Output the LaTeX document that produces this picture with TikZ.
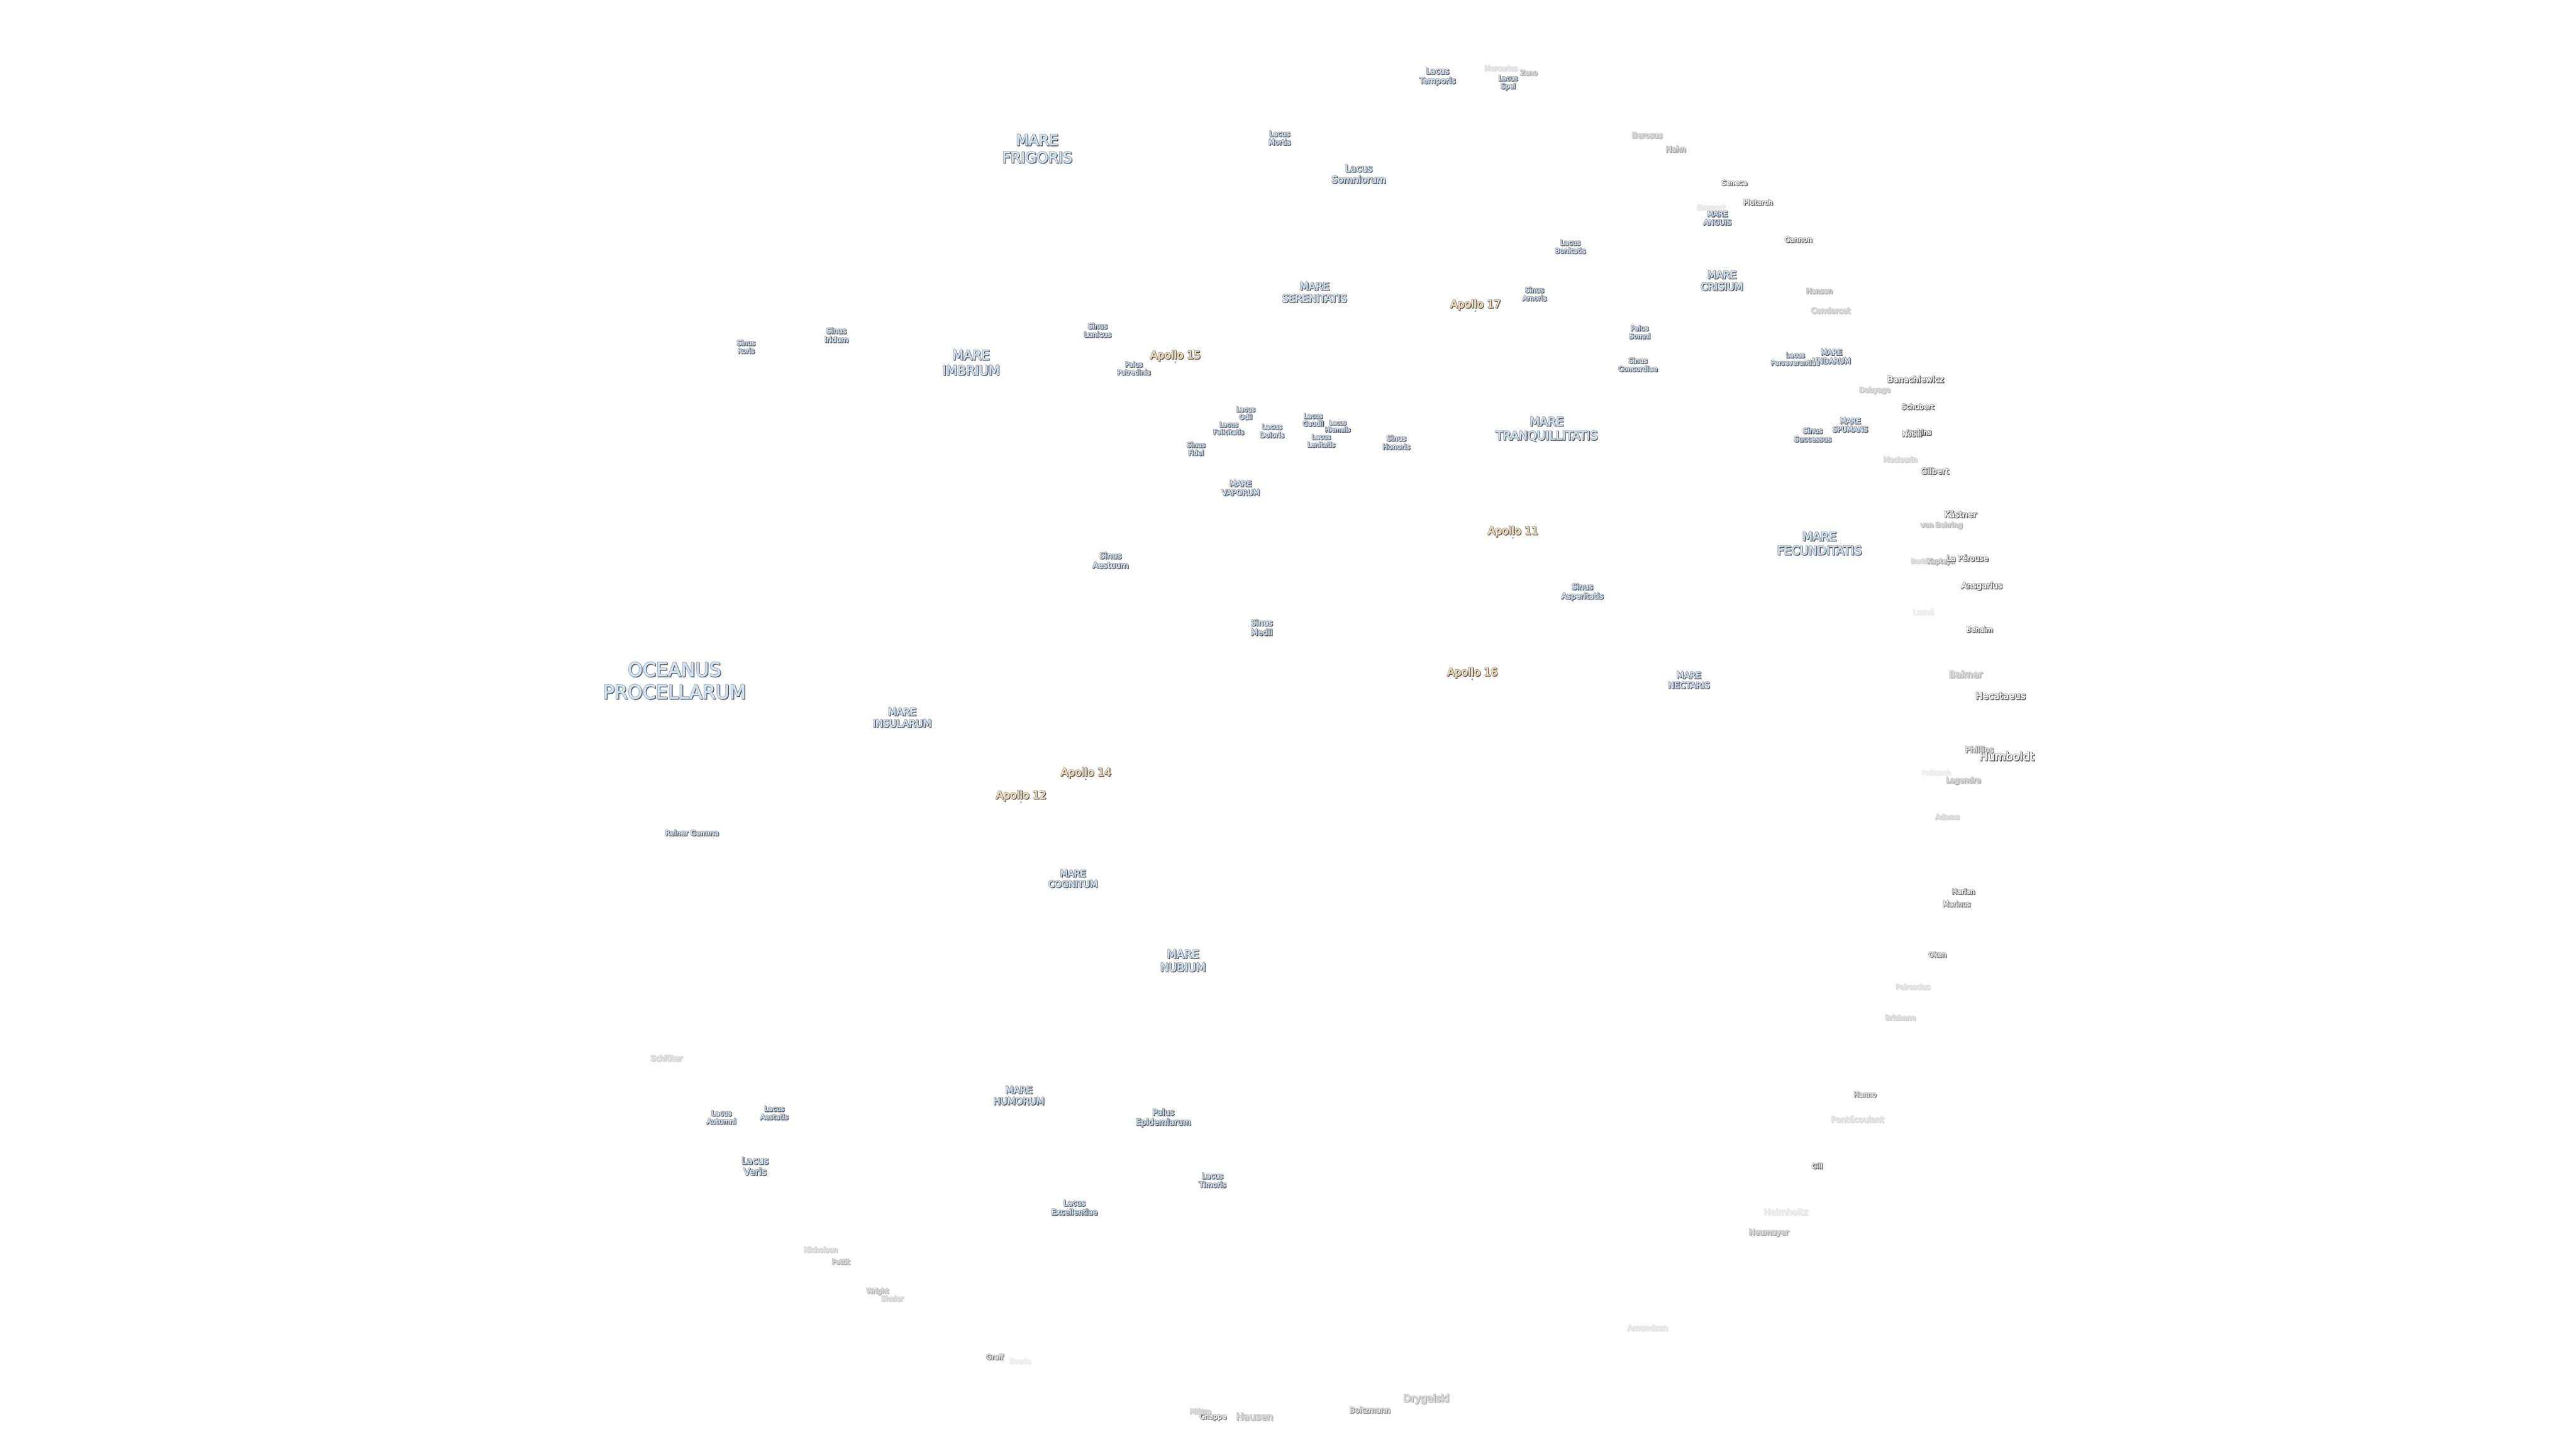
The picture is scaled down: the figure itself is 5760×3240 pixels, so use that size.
\documentclass[tikz,border=0pt]{standalone}
\usepackage{fontspec}
\setmainfont{DejaVu Sans}
\newbox\labbox
% one text, painted in three passes: shadow, outline, fill
% #1 name, #2 x, #3 y, #4 size, #5 opacity, #6/#7/#8 fill rgb, #9 text
\newcommand{\mixv}[3]{\pgfmathsetmacro{#1}{1-#3*(1-#2)}}
\newcommand{\lab}[9]{%
  \mixv{\shg}{0.28}{#5}\mixv{\stg}{0.60}{#5}%
  \mixv{\fr}{#6}{#5}\mixv{\fg}{#7}{#5}\mixv{\fb}{#8}{#5}%
  \pgfmathsetmacro{\lsz}{#4*1.18}%
  \node[lbl] (#1) at (#2,{#3+3}) {\fontsize{#4}{\lsz}\selectfont
    \setbox\labbox=\hbox{\begin{tabular}{@{}c@{}}#9\end{tabular}}%
    \special{pdf:literal direct 2 Tr 1.8 w \shg\space\shg\space\shg\space rg \shg\space\shg\space\shg\space RG}%
    \rlap{\kern1.5pt\lower1.5pt\copy\labbox}%
    \special{pdf:literal direct 2 Tr 2.4 w \stg\space\stg\space\stg\space rg \stg\space\stg\space\stg\space RG}%
    \rlap{\copy\labbox}%
    \special{pdf:literal direct 2 Tr 0.35 w \fr\space\fg\space\fb\space rg \fr\space\fg\space\fb\space RG}%
    \copy\labbox
    \special{pdf:literal direct 0 Tr 0 0 0 rg 0 0 0 RG}};}
\newcommand{\sea}[5]{\lab{#1}{#2}{#3}{#4}{1}{0.80}{0.90}{1}{#5}}
\newcommand{\apo}[5]{\lab{#1}{#2}{#3}{#4}{1}{1}{0.88}{0.70}{#5}}
\newcommand{\craterl}[6]{%
  \pgfmathsetmacro{\cop}{min(1,#5*1.6)}%
  \pgfmathsetmacro{\cv}{1-0.6*(1-\cop)}%
  \lab{#1}{#2}{#3}{#4}{\cop}{\cv}{\cv}{\cv}{#6}}
\newcommand{\crater}[5]{\craterl{#1}{#2}{#3}{#4}{#5}{#1}}
\begin{document}
\begin{tikzpicture}[x=1pt,y=-1pt,lbl/.style={inner sep=0pt,outer sep=0pt,anchor=center},
  site/.style={circle,fill=black!60,minimum size=3.5pt,inner sep=0pt}]
\useasboundingbox (0,0) rectangle (5760,3240);
\fill[white] (0,0) rectangle (5760,3240);
% seas
\sea{oceanus}{1508}{1525}{42.5}{OCEANUS\\PROCELLARUM}
\sea{frigoris}{2319}{334}{33}{MARE\\FRIGORIS}
\sea{imbrium}{2171}{812}{29}{MARE\\IMBRIUM}
\sea{serenitatis}{2939}{654}{23}{MARE\\SERENITATIS}
\sea{crisium}{3850}{628}{22.5}{MARE\\CRISIUM}
\sea{tranq}{3458}{959}{26.5}{MARE\\TRANQUILLITATIS}
\sea{fecund}{4068}{1216}{26.5}{MARE\\FECUNDITATIS}
\sea{nectaris}{3776}{1521}{19}{MARE\\NECTARIS}
\sea{insularum}{2017}{1605}{22}{MARE\\INSULARUM}
\sea{cognitum}{2399}{1965}{20}{MARE\\COGNITUM}
\sea{nubium}{2645}{2149}{25}{MARE\\NUBIUM}
\sea{humorum}{2278}{2450}{21}{MARE\\HUMORUM}
\sea{vaporum}{2774}{1091}{17}{MARE\\VAPORUM}
\sea{anguis}{3840}{487}{16}{MARE\\ANGUIS}
\sea{undarum}{4095}{797}{16.5}{MARE\\UNDARUM}
\sea{spumans}{4137}{950}{16}{MARE\\SPUMANS}
% lakes, bays, marshes
\sea{somniorum}{3038}{389}{21}{Lacus\\Somniorum}
\sea{mortis}{2861}{308}{16}{Lacus\\Mortis}
\sea{temporis}{3214}{169}{18}{Lacus\\Temporis}
\sea{spei}{3372}{183}{15}{Lacus\\Spei}
\sea{bonitatis}{3511}{551}{15.5}{Lacus\\Bonitatis}
\sea{amoris}{3431}{657}{15.5}{Sinus\\Amoris}
\sea{somni}{3666}{742}{15}{Palus\\Somni}
\sea{concordiae}{3662}{815}{15.5}{Sinus\\Concordiae}
\sea{persev}{4014}{802}{14.5}{Lacus\\Perseverantiae}
\sea{successus}{4053}{972}{16}{Sinus\\Successus}
\sea{iridum}{1870}{749}{16.5}{Sinus\\Iridum}
\sea{roris}{1668}{775}{15}{Sinus\\Roris}
\sea{lunicus}{2454}{738}{16}{Sinus\\Lunicus}
\sea{putredinis}{2535}{823}{15}{Palus\\Putredinis}
\sea{odii}{2785}{923}{14.5}{Lacus\\Odii}
\sea{felicitatis}{2747}{957}{14.5}{Lacus\\Felicitatis}
\sea{doloris}{2844}{963}{15.5}{Lacus\\Doloris}
\sea{gaudii}{2936}{938}{14.5}{Lacus\\Gaudii}
\sea{hiemalis}{2991}{952}{13}{Lacus\\Hiemalis}
\sea{lenitatis}{2954}{985}{14.5}{Lacus\\Lenitatis}
\sea{fidei}{2674}{1003}{15}{Sinus\\Fidei}
\sea{honoris}{3122}{989}{16}{Sinus\\Honoris}
\sea{asperitatis}{3538}{1322}{17.5}{Sinus\\Asperitatis}
\sea{aestuum}{2483}{1253}{18}{Sinus\\Aestuum}
\sea{medii}{2821}{1403}{18}{Sinus\\Medii}
\sea{epidemiarum}{2601}{2498}{18.5}{Palus\\Epidemiarum}
\sea{aestatis}{1731}{2488}{15.5}{Lacus\\Aestatis}
\sea{autumni}{1613}{2498}{15.5}{Lacus\\Autumni}
\sea{veris}{1688}{2608}{21}{Lacus\\Veris}
\sea{timoris}{2711}{2639}{16.5}{Lacus\\Timoris}
\sea{excellentiae}{2402}{2700}{17}{Lacus\\Excellentiae}
\sea{reiner}{1547}{1862}{16}{Reiner Gamma}
% Apollo sites
\apo{ap11}{3383}{1187}{24}{Apollo 11}
\apo{ap12}{2283}{1778}{24}{Apollo 12}
\apo{ap14}{2428}{1727}{24}{Apollo 14}
\apo{ap15}{2628}{794}{24}{Apollo 15}
\apo{ap16}{3292}{1503}{24}{Apollo 16}
\apo{ap17}{3299}{680}{24}{Apollo 17}
\node[site] (dot11) at (3383,1203) {};
\node[site] (dot12) at (2283,1794) {};
\node[site] (dot14) at (2428,1743) {};
\node[site] (dot15) at (2628,810) {};
\node[site] (dot16) at (3292,1519) {};
\node[site] (dot17) at (3299,696) {};
% craters
\crater{Mercurius}{3356}{152}{15}{.15}
\crater{Zeno}{3418}{162}{15}{.35}
\crater{Berosus}{3683}{302}{17}{.3}
\crater{Hahn}{3747}{333}{17}{.4}
\crater{Seneca}{3878}{408}{15.5}{.7}
\crater{Plutarch}{3931}{452}{16}{.6}
\crater{Emmart}{3826}{463}{16}{.1}
\crater{Cannon}{4021}{535}{16}{.8}
\crater{Hansen}{4068}{650}{15.5}{.35}
\crater{Condorcet}{4093}{694}{17}{.25}
\crater{Banachiewicz}{4283}{848}{18.5}{.8}
\crater{Dubyago}{4192}{871}{15.5}{.25}
\crater{Schubert}{4288}{909}{16}{.8}
\crater{Jenkins}{4291}{966}{15.5}{.75}
\crater{Nobili}{4275}{970}{15.5}{.75}
\crater{Maclaurin}{4249}{1027}{15.5}{.2}
\crater{Gilbert}{4326}{1053}{18.5}{.55}
\crater{Kästner}{4383}{1150}{19}{.75}
\craterl{behring}{4341}{1173}{15.5}{.3}{von Behring}
\crater{Barkla}{4295}{1254}{14}{.2}
\crater{Kapteyn}{4340}{1254}{15}{.4}
\craterl{perouse}{4399}{1248}{17}{.75}{La Pérouse}
\crater{Ansgarius}{4431}{1309}{18.5}{.8}
\crater{Lamé}{4300}{1368}{17}{.08}
\crater{Behaim}{4426}{1407}{15.5}{.7}
\crater{Balmer}{4395}{1508}{21}{.3}
\crater{Hecataeus}{4473}{1556}{21}{.7}
\crater{Phillips}{4426}{1676}{18}{.45}
\crater{Humboldt}{4487}{1692}{25}{.85}
\crater{Palitzsch}{4329}{1727}{15}{.08}
\crater{Legendre}{4390}{1744}{16.5}{.35}
\crater{Adams}{4354}{1826}{15.5}{.2}
\crater{Harlan}{4390}{1993}{15.5}{.75}
\crater{Marinus}{4375}{2021}{15.5}{.55}
\crater{Oken}{4332}{2134}{15.5}{.5}
\crater{Peirescius}{4277}{2206}{15.5}{.15}
\crater{Brisbane}{4249}{2275}{15.5}{.2}
\crater{Hanno}{4170}{2447}{15.5}{.5}
\crater{Pontécoulant}{4153}{2503}{18}{.15}
\crater{Gill}{4063}{2607}{15}{.7}
\crater{Helmholtz}{3993}{2710}{19.5}{.1}
\crater{Neumayer}{3955}{2755}{17}{.35}
\crater{Amundsen}{3684}{2969}{17}{.12}
\crater{Drygalski}{3189}{3127}{22}{.3}
\crater{Boltzmann}{3063}{3153}{17}{.45}
\crater{Hausen}{2805}{3168}{22}{.3}
\crater{Chappe}{2712}{3167}{15.5}{.55}
\crater{Pilâtre}{2684}{3156}{15}{.25}
\crater{Baade}{2281}{3043}{15}{.08}
\crater{Graff}{2224}{3034}{15.5}{.5}
\crater{Shaler}{1995}{2903}{15.5}{.2}
\crater{Wright}{1962}{2886}{15}{.3}
\crater{Pettit}{1880}{2821}{15}{.35}
\crater{Nicholson}{1835}{2794}{15.5}{.2}
\crater{Schlüter}{1490}{2366}{17}{.2}
\end{tikzpicture}
\end{document}
